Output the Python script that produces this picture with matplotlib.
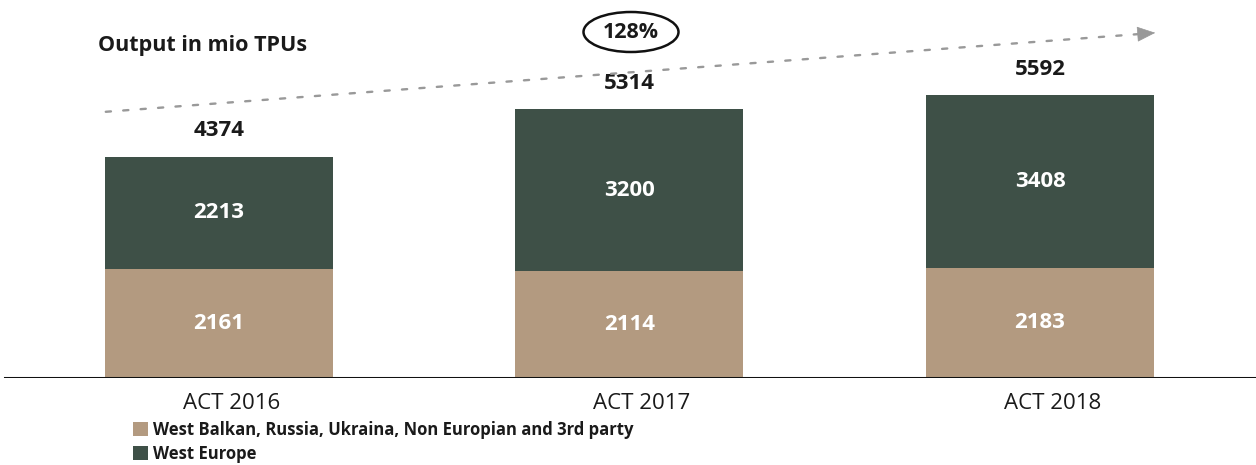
import numpy as np
import matplotlib.pyplot as plt
from matplotlib.patches import Ellipse, Patch, FancyArrowPatch

# data
years = ['ACT 2016', 'ACT 2017', 'ACT 2018']
other = [2161, 2114, 2183]
west_europe = [2213, 3200, 3408]
totals = [4374, 5314, 5592]
growth = '128%'

plt.rcParams['font.family'] = ['Open Sans', 'DejaVu Sans']

green = '#3e5047'
tan = '#b39a80'

fig = plt.figure(figsize=(12.56, 4.65), dpi=100)
ax = fig.add_axes([0, 87/465, 1, 378/465])

x = np.arange(len(years))
w = 0.555
ax.bar(x, other, width=w, color=tan, edgecolor='none')
ax.bar(x, west_europe, bottom=other, width=w, color=green, edgecolor='none')

for i in range(len(years)):
    ax.text(x[i], other[i] / 2, f'{other[i]}', ha='center', va='center',
            color='white', fontsize=16, fontweight='bold')
    ax.text(x[i], other[i] + west_europe[i] / 2, f'{west_europe[i]}', ha='center',
            va='center', color='white', fontsize=16, fontweight='bold')
    ax.text(x[i], totals[i] + 300, f'{totals[i]}', ha='center', va='bottom',
            color='#1a1a1a', fontsize=16, fontweight='bold')

ax.set_xlim(-0.533, 2.526)
ax.set_ylim(0, 7470)
for s in ax.spines.values():
    s.set_visible(False)
ax.set_yticks([])
ax.set_xticks([])
ax.axhline(0, color='#111111', lw=2.2, xmin=0.004, xmax=1)

for i, lab in enumerate(years):
    ax.text(x[i] + 0.03, -500, lab, ha='center', va='center', fontsize=16,
            color='#1a1a1a')

fig.text(98/1256, 1 - 45/465, 'Output in mio TPUs', fontsize=15.5,
         fontweight='bold', color='#1a1a1a', va='center')

# growth arrow
fig.patches.append(FancyArrowPatch(
    (103/1256, 1 - 112/465), (1140/1256, 1 - 34/465), transform=fig.transFigure,
    arrowstyle='-', linestyle=(0, (2.2, 5.2)), color='#999999', lw=1.7))
fig.patches.append(FancyArrowPatch(
    (1136/1256, 1 - 34.3/465), (1158/1256, 1 - 32.6/465), transform=fig.transFigure,
    arrowstyle='-|>,head_length=12,head_width=5', color='#999999', lw=0.5,
    mutation_scale=1))
fig.patches.append(Ellipse((631/1256, 1 - 32/465), 95/1256, 40/465,
                           transform=fig.transFigure, facecolor='white',
                           edgecolor='#111111', lw=1.8))
fig.text(631/1256, 1 - 32/465, growth, ha='center', va='center', fontsize=15.5,
         fontweight='bold', color='#1a1a1a')

# legend
handles = [Patch(facecolor=tan, label='West Balkan, Russia, Ukraina, Non Europian and 3rd party'),
           Patch(facecolor=green, label='West Europe')]
leg = fig.legend(handles=handles, loc='upper left', bbox_to_anchor=(126/1256, 1 - 414/465),
                 frameon=False, handlelength=0.9, handleheight=0.9, handletextpad=0.3,
                 labelspacing=0.35, borderaxespad=0, prop={'weight': 'bold', 'size': 12})
for t in leg.get_texts():
    t.set_color('#1a1a1a')

fig.savefig('out.png', dpi=100)
